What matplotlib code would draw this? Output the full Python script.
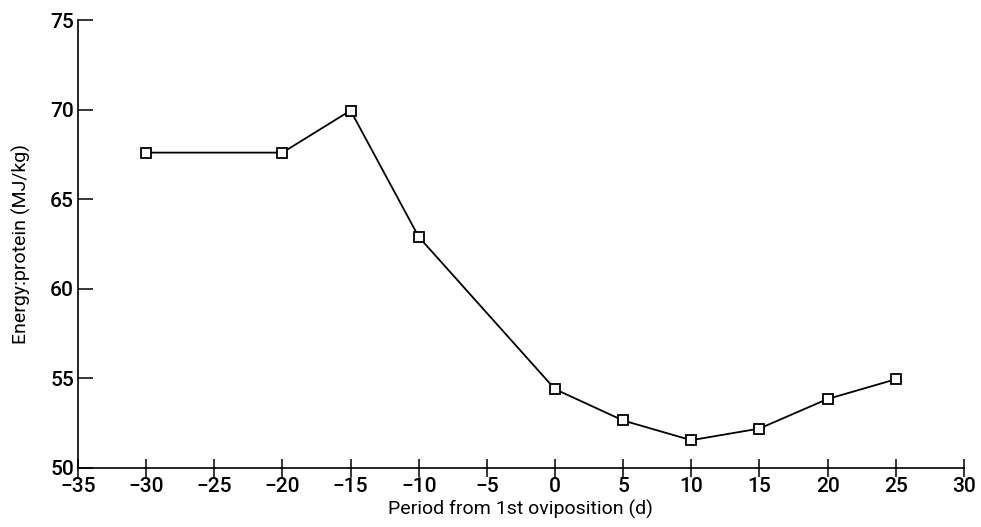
import matplotlib
matplotlib.use("Agg")
import matplotlib.pyplot as plt

# days relative to 1st oviposition
jours = [-30, -20, -15, -10, 0, 5, 10, 15, 20, 25]
# energy:protein ratio (MJ/kg)
ratio = [67.6, 67.6, 69.95, 62.9, 54.4, 52.65, 51.55, 52.2, 53.85, 54.95]

xticks = [-35, -30, -25, -20, -15, -10, -5, 0, 5, 10, 15, 20, 25, 30]
yticks = [50, 55, 60, 65, 70, 75]

plt.rcParams['font.family'] = ['Roboto', 'DejaVu Sans']
plt.rcParams['font.weight'] = 'medium'

fig = plt.figure(figsize=(9.81, 5.27), dpi=100)
ax = fig.add_axes([0.0795, 0.112, 0.903, 0.850])

ax.plot(jours, ratio, color='black', linewidth=1.3, marker='s', markersize=7,
        markerfacecolor='white', markeredgecolor='black', markeredgewidth=1.3,
        clip_on=False)

ax.set_xlim(-35, 30)
ax.set_ylim(50, 75)
ax.set_xticks(xticks)
ax.set_yticks(yticks)
ax.set_xticklabels([str(t).replace('-', '\u2212') for t in xticks])

ax.spines['top'].set_visible(False)
ax.spines['right'].set_visible(False)
ax.spines['left'].set_linewidth(1.2)
ax.spines['bottom'].set_linewidth(1.2)

ax.tick_params(axis='x', direction='inout', length=13, width=1.1, labelsize=15, pad=0)
ax.tick_params(axis='y', direction='in', length=11, width=1.1, labelsize=15, pad=3)

ax.set_xlabel('Period from 1st oviposition (d)', fontsize=14, labelpad=3)
ax.set_ylabel('Energy:protein (MJ/kg)', fontsize=14, labelpad=14)

fig.savefig('out.png', dpi=100)
